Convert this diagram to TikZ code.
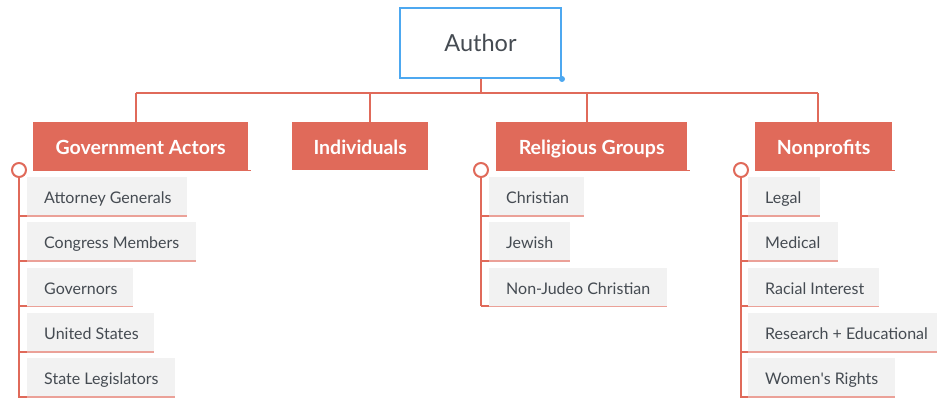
\documentclass[tikz,border=0pt]{standalone}
\usepackage{fontspec}
\setmainfont{Lato}
\definecolor{cred}{HTML}{E06A5A}
\definecolor{clight}{HTML}{EBA198}
\definecolor{cgray}{HTML}{F2F2F2}
\definecolor{ctext}{HTML}{454B52}
\definecolor{cblue}{HTML}{4DA8F0}
\newcommand{\chtext}[2]{\makebox[#1][l]{#2}}
\tikzset{
  rootbox/.style={draw=cblue, line width=2pt, fill=white, minimum width=161pt, minimum height=70pt,
    anchor=north west, inner sep=0pt, font=\fontsize{23.5}{28}\selectfont, text=ctext},
  catbox/.style={fill=cred, text=white, font=\bfseries\fontsize{19.5}{23}\selectfont,
    minimum height=48pt, anchor=north west, inner sep=0pt, text height=16pt, text depth=0pt},
  childbox/.style={fill=cgray, text=ctext, font=\fontsize{16}{19}\selectfont,
    minimum height=38.5pt, anchor=north west, inner xsep=17pt, inner ysep=0pt, text height=14.5pt, text depth=0pt},
  link/.style={draw=cred, line width=2pt},
  ulink/.style={draw=clight, line width=1.5pt},
  knob/.style={draw=cred, line width=2pt, fill=white},
}
\begin{document}
\begin{tikzpicture}[x=1pt,y=-1pt]
\useasboundingbox (0,0) rectangle (938,398);

% root
\node[rootbox] (author) at (399,7) {Author};
\fill[cblue] (author.south east) circle (3pt);

% categories
\node[catbox, minimum width=215pt] (gov) at (33,122) {Government Actors};
\node[catbox, minimum width=136pt] (ind) at (292,122) {Individuals};
\node[catbox, minimum width=191pt] (rel) at (496,122) {Religious Groups};
\node[catbox, minimum width=137pt] (non) at (755,122) {Nonprofits};

% bus
\coordinate (busL) at (136,93);
\coordinate (busR) at (818,93);
\draw[link] (author.south) -- (author.south |- busL);
\draw[link] (busL) -- (busR);
\draw[link] (busL) -- (busL |- gov.north);
\draw[link] (370,93) -- (370,122);
\draw[link] (587,93) -- (587,122);
\draw[link] (busR) -- (busR |- non.north);

% small underline tails of categories
\draw[cred, line width=1pt] (gov.south west) -- ++(218,0);
\draw[cred, line width=1pt] (rel.south west) -- ++(194,0);
\draw[cred, line width=1pt] (non.south west) -- ++(140,0);

% government children
\node[childbox] (g1) at (27,177) {\chtext{126pt}{Attorney Generals}};
\node[childbox] (g2) at (27,222.3) {\chtext{135pt}{Congress Members}};
\node[childbox] (g3) at (27,267.6) {\chtext{72pt}{Governors}};
\node[childbox] (g4) at (27,312.9) {\chtext{93pt}{United States}};
\node[childbox] (g5) at (27,358.2) {\chtext{114pt}{State Legislators}};
\coordinate (gk) at (19,170);
\draw[link] (gk) -- (19,398);
\foreach \n in {g1,g2,g3,g4,g5}{
  \draw[ulink] (\n.south west) -- (\n.south east);
  \draw[link] (\n.south west -| gk) -- (\n.south west);
}
\draw[knob] (gk) circle (7pt);

% religious children
\node[childbox] (r1) at (489,177) {\chtext{61pt}{Christian}};
\node[childbox] (r2) at (489,222.3) {\chtext{47pt}{Jewish}};
\node[childbox] (r3) at (489,267.6) {\chtext{144pt}{Non-Judeo Christian}};
\coordinate (rk) at (481,170);
\draw[link] (rk) -- (rk |- r3.south);
\foreach \n in {r1,r2,r3}{
  \draw[ulink] (\n.south west) -- (\n.south east);
  \draw[link] (\n.south west -| rk) -- (\n.south west);
}
\draw[knob] (rk) circle (7pt);

% nonprofit children
\node[childbox] (n1) at (748,177) {\chtext{38pt}{Legal}};
\node[childbox] (n2) at (748,222.3) {\chtext{56pt}{Medical}};
\node[childbox] (n3) at (748,267.6) {\chtext{97pt}{Racial Interest}};
\node[childbox] (n4) at (748,312.9) {\chtext{155pt}{Research + Educational}};
\node[childbox] (n5) at (748,358.2) {\chtext{113pt}{Women\textquotesingle s Rights}};
\coordinate (nk) at (741,170);
\draw[link] (nk) -- (741,398);
\foreach \n in {n1,n2,n3,n4,n5}{
  \draw[ulink] (\n.south west) -- (\n.south east);
  \draw[link] (\n.south west -| nk) -- (\n.south west);
}
\draw[knob] (nk) circle (7pt);
\end{tikzpicture}
\end{document}
